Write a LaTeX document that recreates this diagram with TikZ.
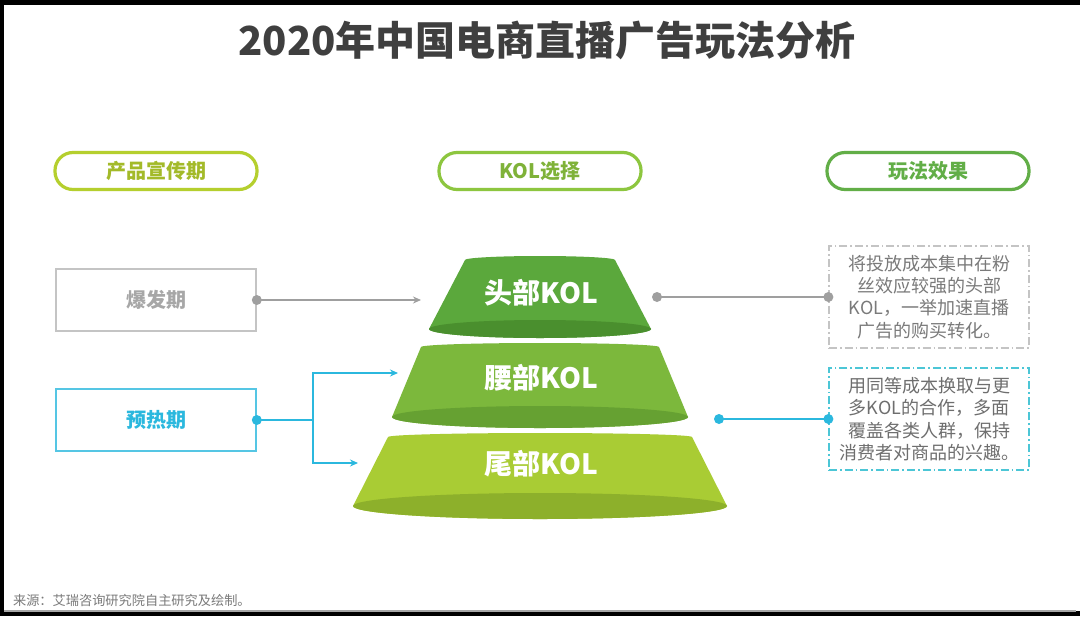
\documentclass[tikz,border=0pt]{standalone}
\usepackage{fontspec}
\setmainfont{Noto Sans CJK SC}
\usetikzlibrary{arrows.meta}
\definecolor{titlegray}{HTML}{3F3F3F}
\definecolor{limeA}{HTML}{B5CF2E}
\definecolor{limeB}{HTML}{8DC63F}
\definecolor{limeC}{HTML}{62AE47}
\definecolor{boomgray}{HTML}{C4C4C4}
\definecolor{warmcyan}{HTML}{2BB8DE}
\definecolor{boxcyan}{HTML}{4CC6D6}
\definecolor{txtgray}{HTML}{7A7A7A}
\begin{document}
\begin{tikzpicture}[x=0.5pt,y=-0.5pt,
    pill/.style={draw, line width=1.6pt, rounded corners=9pt, minimum width=101pt, minimum height=18.5pt, font=\bfseries\fontsize{10}{11}\selectfont},
    stage/.style={draw, line width=0.8pt, minimum width=100pt, minimum height=31pt, font=\bfseries\fontsize{10}{11}\selectfont},
    effect/.style={draw, line width=0.6pt, dash pattern=on 4pt off 1.5pt on 0.8pt off 1.5pt, minimum width=100pt, minimum height=51pt, align=center, font=\fontsize{9}{11.2}\selectfont},
    link/.style={line width=0.8pt, -{Stealth[length=4pt,width=3.5pt]}},
    dot/.style={circle, fill, inner sep=0pt, minimum size=5pt}]
    \fill[black] (0,0) rectangle (1080,616);
    \fill[white] (4,5) rectangle (1080,611);
    \draw[gray!70, line width=1pt] (4,611) -- (1076,611);
    \node[text=titlegray, font=\bfseries\fontsize{20}{24}\selectfont] (title) at (547,40) {2020年中国电商直播广告玩法分析};
    \node[pill, limeA, text=limeA!90!black] (hdA) at (156,171) {产品宣传期};
    \node[pill, limeB, text=limeB!90!black] (hdB) at (540,171) {KOL选择};
    \node[pill, limeC, text=limeC] (hdC) at (928,171) {玩法效果};
    \node[stage, boomgray, text=boomgray!85!black] (boom) at (156,300) {爆发期};
    \node[stage, warmcyan!80, text=warmcyan] (warm) at (156,420) {预热期};
    \foreach \yt/\a/\yb/\b/\r/\ly/\body/\base/\lbl/\nm in {
        260/75/329/111/9/293/5BA83C/4A8F2E/头部KOL/top,
        347/119/417/148/11/378/7CB83C/66A132/腰部KOL/mid,
        437/152/506/187/13/464/A9CC34/8DB02B/尾部KOL/tail}{
        \definecolor{bodyc}{HTML}{\body}
        \definecolor{basec}{HTML}{\base}
        \fill[bodyc] (540-\a,\yt) arc[start angle=180, end angle=360, x radius=\a, y radius=4]
            -- (540+\b,\yb) arc[start angle=0, end angle=180, x radius=\b, y radius=\r] -- cycle;
        \fill[basec] (540,\yb) ellipse[x radius=\b, y radius=\r];
        \node[white, font=\bfseries\fontsize{14}{16}\selectfont] (\nm) at (541,\ly) {\lbl};
    }
    \node[effect, boomgray, text=txtgray] (effA) at (929,297) {将投放成本集中在粉\\丝效应较强的头部\\KOL，一举加速直播\\广告的购买转化。};
    \node[effect, boxcyan, text=txtgray!90!black] (effB) at (929,419) {用同等成本换取与更\\多KOL的合作，多面\\覆盖各类人群，保持\\消费者对商品的兴趣。};
    \coordinate (boomEnd) at (421,300);
    \coordinate (topOut) at (657,297);
    \coordinate (fork) at (313,420);
    \coordinate (midIn) at (398,373);
    \coordinate (tailIn) at (358,463);
    \coordinate (midOut) at (719,419);
    \draw[link, gray!75] (boom.east) -- (boomEnd);
    \node[dot, gray!75] at (boom.east) {};
    \draw[gray!75, line width=0.8pt] (topOut) -- (effA.west);
    \node[dot, gray!75] at (topOut) {};
    \node[dot, gray!75] at (effA.west) {};
    \draw[warmcyan, line width=0.8pt] (warm.east) -- (fork);
    \draw[link, warmcyan] (fork) |- (midIn);
    \draw[link, warmcyan] (fork) |- (tailIn);
    \node[dot, warmcyan] at (warm.east) {};
    \draw[warmcyan, line width=0.8pt] (midOut) -- (effB.west);
    \node[dot, warmcyan] at (midOut) {};
    \node[dot, warmcyan] at (effB.west) {};
    \node[anchor=west, text=txtgray, font=\fontsize{6.6}{8}\selectfont] (src) at (6,600) {来源：艾瑞咨询研究院自主研究及绘制。};
\end{tikzpicture}
\end{document}
